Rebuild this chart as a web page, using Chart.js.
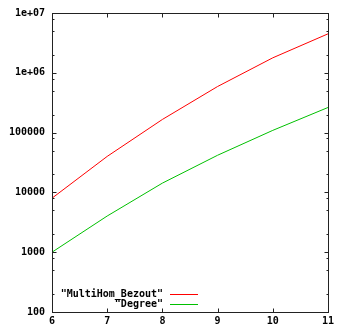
<!DOCTYPE html>
<html>
<head>
<meta charset="utf-8">
<script src="https://cdn.jsdelivr.net/npm/chart.js@4.4.0/dist/chart.umd.min.js"></script>
<style>
html,body{margin:0;padding:0;background:#fff;}
canvas{display:block;}
</style>
</head>
<body>
<canvas id="c" width="337" height="326"></canvas>
<script>
const xValues = [6, 7, 8, 9, 10, 11];
const multiHomBezout = [8000, 40000, 166000, 590000, 1780000, 4480000];
const degree = [1000, 4030, 14300, 41800, 109000, 263000];
const seriesLabels = ['"MultiHom_Bezout"', '"Degree"'];
const yTicks = [100, 1000, 10000, 100000, 1000000, 10000000];
const yTickLabels = ['100', '1000', '10000', '100000', '1e+06', '1e+07'];
const minorFactors = [2, 5, 8];

const FONT = '"DejaVu Sans Mono", monospace';

const framePlugin = {
  id: 'frame',
  afterDatasetsDraw(chart) {
    const {ctx, chartArea, scales} = chart;
    const L = Math.round(chartArea.left) + 0.5, R = Math.round(chartArea.right) + 0.5;
    const T = Math.round(chartArea.top) + 0.5, B = Math.round(chartArea.bottom) + 0.5;
    ctx.save();
    ctx.strokeStyle = '#222';
    ctx.lineWidth = 1;
    ctx.beginPath();
    xValues.forEach(v => {
      const px = Math.round(scales.x.getPixelForValue(v)) + 0.5;
      ctx.moveTo(px, B); ctx.lineTo(px, B - 4);
      ctx.moveTo(px, T); ctx.lineTo(px, T + 4);
    });
    yTicks.forEach(v => {
      const py = Math.round(scales.y.getPixelForValue(v)) + 0.5;
      ctx.moveTo(L, py); ctx.lineTo(L + 4, py);
      ctx.moveTo(R, py); ctx.lineTo(R - 4, py);
    });
    yTicks.slice(0, -1).forEach(d => {
      minorFactors.forEach(f => {
        const py = Math.round(scales.y.getPixelForValue(d * f)) + 0.5;
        ctx.moveTo(L, py); ctx.lineTo(L + 2, py);
        ctx.moveTo(R, py); ctx.lineTo(R - 2, py);
      });
    });
    ctx.stroke();
    ctx.strokeRect(L, T, R - L, B - T);

    ctx.font = 'bold 10px ' + FONT;
    ctx.textAlign = 'right';
    ctx.textBaseline = 'middle';
    ctx.fillStyle = '#000';
    chart.data.datasets.forEach((ds, i) => {
      const yy = chartArea.bottom - 18 + i * 10;
      ctx.fillText(ds.label, chartArea.left + 111, yy);
      ctx.strokeStyle = ds.borderColor;
      ctx.beginPath();
      ctx.moveTo(chartArea.left + 118, Math.round(yy) + 0.5);
      ctx.lineTo(chartArea.left + 146, Math.round(yy) + 0.5);
      ctx.stroke();
    });
    ctx.restore();
  }
};

new Chart(document.getElementById('c'), {
  type: 'line',
  data: {
    datasets: [
      {
        label: seriesLabels[0],
        data: xValues.map((x, i) => ({x, y: multiHomBezout[i]})),
        borderColor: '#ff0000',
        borderWidth: 1,
        pointRadius: 0,
        tension: 0,
        fill: false
      },
      {
        label: seriesLabels[1],
        data: xValues.map((x, i) => ({x, y: degree[i]})),
        borderColor: '#00c000',
        borderWidth: 1,
        pointRadius: 0,
        tension: 0,
        fill: false
      }
    ]
  },
  options: {
    responsive: false,
    devicePixelRatio: 1,
    animation: false,
    events: [],
    layout: {padding: {left: 0, right: 9, top: 11, bottom: 0}},
    plugins: {legend: {display: false}, tooltip: {enabled: false}, title: {display: false}},
    scales: {
      x: {
        type: 'linear',
        min: 6, max: 11,
        grid: {display: false, drawTicks: false},
        border: {display: false},
        afterBuildTicks: s => { s.ticks = xValues.map(v => ({value: v})); },
        afterFit: s => { s.height = 14; },
        ticks: {
          padding: 3,
          maxRotation: 0,
          autoSkip: false,
          color: '#000',
          font: {family: FONT, size: 10, weight: 'bold'},
          callback: v => String(v)
        }
      },
      y: {
        type: 'logarithmic',
        min: 100, max: 10000000,
        grid: {display: false, drawTicks: false},
        border: {display: false},
        afterBuildTicks: s => { s.ticks = yTicks.map(v => ({value: v, major: true})); },
        afterFit: s => { s.width = 52; },
        ticks: {
          padding: 7,
          autoSkip: false,
          color: '#000',
          font: {family: FONT, size: 10, weight: 'bold'},
          callback: v => yTickLabels[yTicks.indexOf(v)] ?? ''
        }
      }
    }
  },
  plugins: [framePlugin]
});
</script>
</body>
</html>
